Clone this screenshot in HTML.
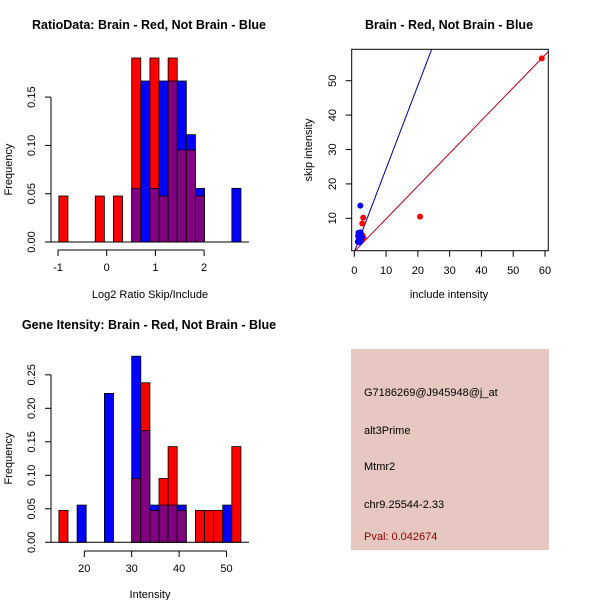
<!DOCTYPE html>
<html><head><meta charset="utf-8"><style>
body{margin:0;background:#fff}
svg{display:block;font-family:"Liberation Sans",sans-serif}
text{font-size:11px;fill:#000}
.t{font-size:12.5px;font-weight:bold}
</style></head><body>
<svg id="s" width="600" height="600" viewBox="0 0 600 600">
<text class="t" x="149" y="29" text-anchor="middle">RatioData: Brain - Red, Not Brain - Blue</text>
<text class="t" x="449" y="29" text-anchor="middle">Brain - Red, Not Brain - Blue</text>
<text class="t" x="149" y="329" text-anchor="middle">Gene Itensity: Brain - Red, Not Brain - Blue</text>
<g id="p1"></g>
<g id="p2"></g>
<g id="p3"></g>
<g>
<rect x="351" y="349" width="198" height="201" fill="#e6c8c0"/>
<text x="364" y="396">G7186269@J945948@j_at</text>
<text x="364" y="434">alt3Prime</text>
<text x="364" y="470">Mtmr2</text>
<text x="364" y="508">chr9.25544-2.33</text>
<text x="364" y="540" style="fill:#8b0000">Pval: 0.042674</text>
</g>
</svg>
<script>
// Ratio histogram data
const ratioStart = -0.983, ratioWidth = 0.187;
const ratioRed  = [1/21,0,0,0,1/21,0,1/21,0,4/21,0,4/21,1/21,4/21,2/21,2/21,1/21,0,0,0,0];
const ratioBlue = [0,0,0,0,0,0,0,0,1/18,3/18,1/18,3/18,3/18,3/18,2/18,1/18,0,0,0,1/18];
const ratioXTicks = [-1,0,1,2];
const ratioYTicks = [0,0.05,0.10,0.15];
// Intensity histogram data
const intStart = 14.64, intWidth = 1.92;
const intRed  = [1/21,0,0,0,0,0,0,0,2/21,5/21,1/21,2/21,3/21,1/21,0,1/21,1/21,1/21,0,3/21];
const intBlue = [0,0,1/18,0,0,4/18,0,0,5/18,3/18,1/18,1/18,1/18,1/18,0,0,0,0,1/18,0];
const intXTicks = [20,30,40,50];
const intYTicks = [0,0.05,0.10,0.15,0.20,0.25];
// Scatter data
const redX = [59,20.7,2.8,2.5,2.6,2.9,2.2,1.8];
const redY = [56.5,10.5,10.2,8.5,5,4.3,3.6,3.2];
const blueX = [1.9,1.3,1.6,2.0,1.2,1.5,1.8,2.2,1.4,1.1,1.7,2.4,1.3,1.9];
const blueY = [13.7,5.8,5.3,5.9,4.8,4.2,4.6,4.0,3.6,3.2,3.0,4.5,5.1,3.4];
const redLineSlope = 0.953, redLineIcpt = 0.3;
const blueLineSlope = 2.42, blueLineIcpt = 0.2;
const scatterXTicks = [0,10,20,30,40,50,60];
const scatterYTicks = [10,20,30,40,50];

const NS='http://www.w3.org/2000/svg';
function mk(parent,tag,attrs){const e=document.createElementNS(NS,tag);for(const k in attrs)e.setAttribute(k,attrs[k]);parent.appendChild(e);return e;}

function hist(g,start,width,red,blue,sx,sy,xt,yt,x0,x1,axY,xlab,labY){
  for(let i=0;i<red.length;i++){
    const r=red[i],b=blue[i];if(!r&&!b)continue;
    const xa=sx(start+i*width),xb=sx(start+(i+1)*width);
    const hi=Math.max(r,b),lo=Math.min(r,b);
    const e=mk(g,'rect',{x:xa,y:sy(hi),width:xb-xa,height:sy(0)-sy(hi),fill:r>=b?'#ff0000':'#0000ff',stroke:'#000','stroke-width':0.8});
    
    
    if(lo>0){const p=mk(g,'rect',{x:xa,y:sy(lo),width:xb-xa,height:sy(0)-sy(lo),fill:'#800080',stroke:'#000','stroke-width':0.8});
      
      }
  }
  const base=mk(g,'line',{x1:51,x2:249,y1:sy(0),y2:sy(0),stroke:'#000'});
  
  
  const xa=mk(g,'line',{x1:sx(xt[0]),x2:sx(xt[xt.length-1]),y1:axY,y2:axY,stroke:'#000'});
  
  
  xt.forEach(v=>{mk(g,'line',{x1:sx(v),x2:sx(v),y1:axY,y2:axY+6,stroke:'#000'});
    const t=mk(g,'text',{x:sx(v),y:axY+21,'text-anchor':'middle'});t.textContent=v;
    
    });
  const ya=mk(g,'line',{x1:51,x2:51,y1:sy(yt[0]),y2:sy(yt[yt.length-1]),stroke:'#000'});
  
  
  yt.forEach(v=>{mk(g,'line',{x1:45,x2:51,y1:sy(v),y2:sy(v),stroke:'#000'});
    const t=mk(g,'text',{x:35,y:sy(v),'text-anchor':'middle',transform:`rotate(-90 35 ${sy(v)})`});t.textContent=v.toFixed(2);
    
    });
  const xl=mk(g,'text',{x:(x0+x1)/2,y:labY,'text-anchor':'middle'});xl.textContent=xlab;
  
  
  const cy=(sy(0)+sy(yt[yt.length-1]))/2;
  const yl=mk(g,'text',{x:12,y:cy,'text-anchor':'middle',transform:`rotate(-90 12 ${cy})`});yl.textContent='Frequency';
  
  
}
hist(document.getElementById('p1'),ratioStart,ratioWidth,ratioRed,ratioBlue,
  v=>58+(v+1)*48.7, v=>242-v*966, ratioXTicks,ratioYTicks,51,249,250,'Log2 Ratio Skip/Include',298);
hist(document.getElementById('p3'),intStart,intWidth,intRed,intBlue,
  v=>84.3+(v-20)*4.74, v=>542.3-v*670, intXTicks,intYTicks,51,249,551,'Intensity',598);

// scatter
(function(){
  const g=document.getElementById('p2');
  const sx=v=>354.3+v*3.178, sy=v=>252.7-v*3.44;
  const cp=mk(g,'clipPath',{id:'cp'});mk(cp,'rect',{x:352,y:49,width:196,height:202});
  const box=mk(g,'rect',{x:351.7,y:49.3,width:196.6,height:201.4,fill:'none',stroke:'#000'});
  
  
  const lg=mk(g,'g',{'clip-path':'url(#cp)'});
  const bl=mk(lg,'line',{x1:sx(-2),y1:sy(blueLineIcpt-2*blueLineSlope),x2:sx(62),y2:sy(blueLineIcpt+62*blueLineSlope),stroke:'#00008b'});
  
  
  const rl=mk(lg,'line',{x1:sx(-2),y1:sy(redLineIcpt-2*redLineSlope),x2:sx(62),y2:sy(redLineIcpt+62*redLineSlope),stroke:'#b00020'});
  
  
  redX.forEach((x,i)=>{const c=mk(lg,'circle',{cx:sx(x),cy:sy(redY[i]),r:3,fill:'#ff0000'});
    
    });
  blueX.forEach((x,i)=>{const c=mk(lg,'circle',{cx:sx(x),cy:sy(blueY[i]),r:3,fill:'#0000ff'});
    
    });
  scatterXTicks.forEach(v=>{mk(g,'line',{x1:sx(v),x2:sx(v),y1:250.7,y2:256.7,stroke:'#000'});
    const t=mk(g,'text',{x:sx(v),y:274,'text-anchor':'middle'});t.textContent=v;
    
    });
  scatterYTicks.forEach(v=>{mk(g,'line',{x1:345.7,x2:351.7,y1:sy(v),y2:sy(v),stroke:'#000'});
    const t=mk(g,'text',{x:336,y:sy(v),'text-anchor':'middle',transform:`rotate(-90 336 ${sy(v)})`});t.textContent=v;
    
    });
  const xl=mk(g,'text',{x:449,y:298,'text-anchor':'middle'});xl.textContent='include intensity';
  
  
  const yl=mk(g,'text',{x:312,y:150,'text-anchor':'middle',transform:'rotate(-90 312 150)'});yl.textContent='skip intensity';
  
  
})();
</script>
</body></html>
